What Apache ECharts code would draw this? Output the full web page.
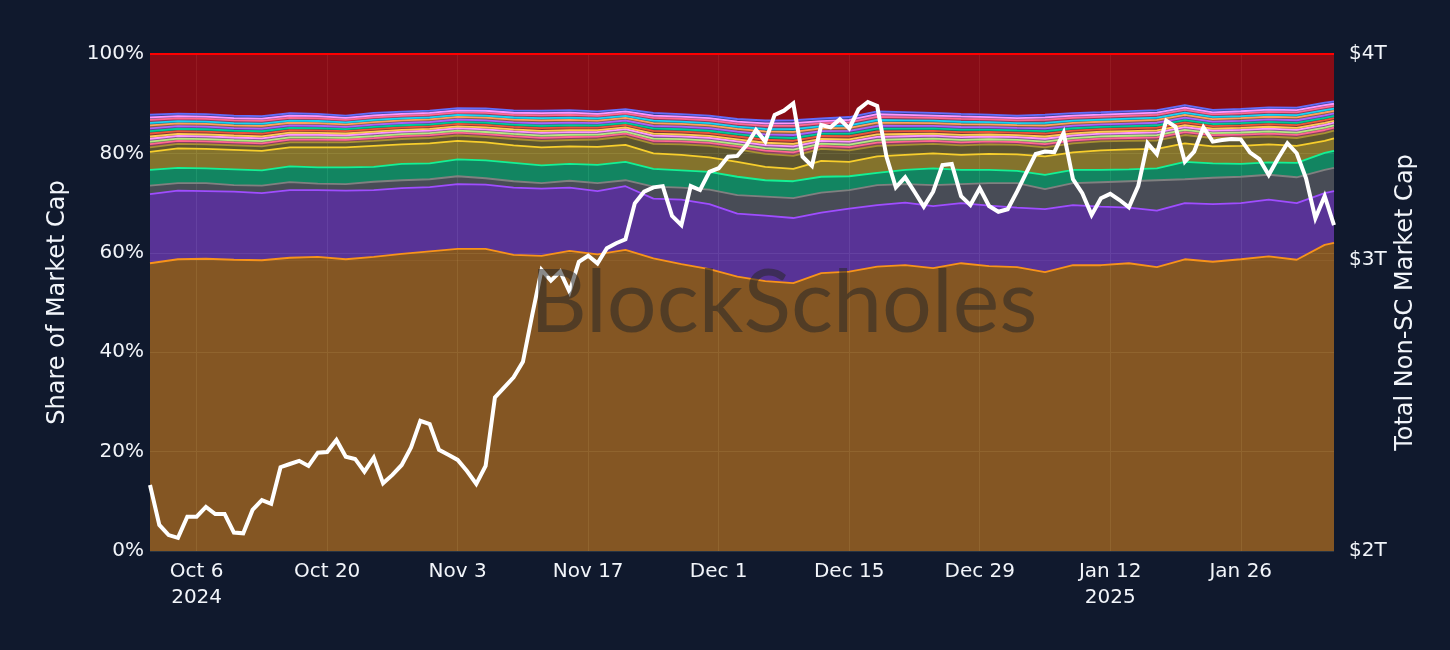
<!DOCTYPE html>
<html>
<head>
<meta charset="utf-8">
<script src="https://cdn.jsdelivr.net/npm/echarts@6/dist/echarts.min.js"></script>
<style>
html,body{margin:0;padding:0;background:#10192d;}
#chart{width:1450px;height:650px;}
</style>
</head>
<body>
<div id="chart"></div>
<script>
// ---------------- DATA ----------------
// Dates of the share series (every 3 days + last day)
const shareDates = ['2024-10-01','2024-10-04','2024-10-07','2024-10-10','2024-10-13','2024-10-16','2024-10-19','2024-10-22','2024-10-25','2024-10-28','2024-10-31',
  '2024-11-03','2024-11-06','2024-11-09','2024-11-12','2024-11-15','2024-11-18','2024-11-21','2024-11-24','2024-11-27','2024-11-30',
  '2024-12-03','2024-12-06','2024-12-09','2024-12-12','2024-12-15','2024-12-18','2024-12-21','2024-12-24','2024-12-27','2024-12-30',
  '2025-01-02','2025-01-05','2025-01-08','2025-01-11','2025-01-14','2025-01-17','2025-01-20','2025-01-23','2025-01-26','2025-01-29',
  '2025-02-01','2025-02-04','2025-02-05'];

// Shares of market cap (%)
const btcShare  = [57.9,58.7,58.8,58.6,58.5,59.0,59.2,58.7,59.2,59.8,60.3,60.8,60.8,59.6,59.4,60.4,59.7,60.6,58.9,57.7,56.7,55.2,54.3,53.9,55.9,56.2,57.2,57.5,56.9,57.9,57.3,57.1,56.1,57.5,57.5,57.9,57.1,58.7,58.2,58.7,59.3,58.6,61.6,62.0];
const ethShare  = [13.9,13.8,13.6,13.7,13.5,13.6,13.4,13.8,13.4,13.2,12.9,13.0,12.9,13.5,13.5,12.7,12.7,12.8,12.0,13.0,13.1,12.7,13.2,13.1,12.2,12.7,12.4,12.6,12.5,12.1,12.2,12.0,12.7,12.1,11.8,11.2,11.4,11.3,11.6,11.3,11.4,11.4,10.4,10.4];
const xrpShare  = [1.7,1.5,1.6,1.3,1.5,1.6,1.3,1.3,1.7,1.6,1.6,1.6,1.3,1.3,1.1,1.4,1.6,1.2,2.4,2.4,2.9,3.7,3.8,4.0,4.0,3.7,4.0,3.7,4.2,3.8,4.5,4.9,4.0,4.4,4.9,5.3,6.1,4.8,5.3,5.3,5.0,5.2,4.7,4.7];
const solShare  = [3.2,3.1,3.0,3.2,3.1,3.2,3.3,3.4,3.0,3.3,3.2,3.4,3.6,3.7,3.6,3.4,3.7,3.7,3.6,3.5,3.6,3.7,3.3,3.4,3.2,2.8,2.5,2.9,3.4,2.9,2.7,2.5,2.9,2.7,2.5,2.4,2.4,3.5,2.9,2.6,2.5,2.9,3.4,3.4];
const bnbShare  = [3.6,3.9,3.9,3.9,3.9,3.8,4.0,4.0,4.2,3.9,4.0,3.7,3.6,3.5,3.6,3.5,3.6,3.4,3.1,3.1,2.9,3.0,2.7,2.5,3.2,2.9,3.3,3.0,3.0,3.0,3.2,3.3,3.7,3.5,3.9,4.0,3.9,3.7,3.4,3.6,3.6,3.4,2.4,2.5];
const dogeShare = [0.9,0.9,0.9,0.9,0.9,1.0,1.0,1.0,1.0,1.1,1.1,1.1,1.1,1.3,1.3,1.3,1.5,1.7,1.9,2.1,2.3,2.5,2.6,2.6,2.4,2.3,2.1,2.0,1.9,1.9,1.9,1.9,1.8,1.8,1.8,1.7,1.7,1.7,1.7,1.7,1.6,1.6,1.6,1.6];
const adaShare  = [0.65,0.61,0.61,0.60,0.61,0.59,0.58,0.55,0.57,0.56,0.56,0.56,0.58,0.58,0.61,0.60,0.57,0.56,0.62,0.61,0.61,0.61,0.66,0.70,0.61,0.66,0.68,0.65,0.62,0.63,0.60,0.59,0.65,0.61,0.59,0.60,0.61,0.60,0.57,0.58,0.59,0.61,0.61,0.59];
const trxShare  = [0.50,0.46,0.46,0.45,0.46,0.44,0.43,0.40,0.42,0.41,0.41,0.41,0.43,0.43,0.46,0.45,0.42,0.41,0.47,0.46,0.46,0.46,0.51,0.55,0.46,0.51,0.53,0.50,0.47,0.48,0.45,0.44,0.50,0.46,0.44,0.45,0.46,0.45,0.42,0.43,0.44,0.46,0.46,0.44];
const avaxShare = [0.60,0.56,0.56,0.55,0.56,0.54,0.53,0.50,0.52,0.51,0.51,0.51,0.53,0.53,0.56,0.55,0.52,0.51,0.57,0.56,0.56,0.56,0.61,0.65,0.56,0.61,0.63,0.60,0.57,0.58,0.55,0.54,0.60,0.56,0.54,0.55,0.56,0.55,0.52,0.53,0.54,0.56,0.56,0.54];
const shibShare = [0.45,0.41,0.41,0.40,0.41,0.39,0.38,0.35,0.37,0.36,0.36,0.36,0.38,0.38,0.41,0.40,0.37,0.36,0.42,0.41,0.41,0.41,0.46,0.50,0.41,0.46,0.48,0.45,0.42,0.43,0.40,0.39,0.45,0.41,0.39,0.40,0.41,0.40,0.37,0.38,0.39,0.41,0.41,0.39];
const tonShare  = [0.60,0.56,0.56,0.55,0.56,0.54,0.53,0.50,0.52,0.51,0.51,0.51,0.53,0.53,0.56,0.55,0.52,0.51,0.57,0.56,0.56,0.56,0.61,0.65,0.56,0.61,0.63,0.60,0.57,0.58,0.55,0.54,0.60,0.56,0.54,0.55,0.56,0.55,0.52,0.53,0.54,0.56,0.56,0.54];
const linkShare = [0.50,0.46,0.46,0.45,0.46,0.44,0.43,0.40,0.42,0.41,0.41,0.41,0.43,0.43,0.46,0.45,0.42,0.41,0.47,0.46,0.46,0.46,0.51,0.55,0.46,0.51,0.53,0.50,0.47,0.48,0.45,0.44,0.50,0.46,0.44,0.45,0.46,0.45,0.42,0.43,0.44,0.46,0.46,0.44];
const dotShare  = [0.55,0.51,0.51,0.50,0.51,0.49,0.48,0.45,0.47,0.46,0.46,0.46,0.48,0.48,0.51,0.50,0.47,0.46,0.52,0.51,0.51,0.51,0.56,0.60,0.51,0.56,0.58,0.55,0.52,0.53,0.50,0.49,0.55,0.51,0.49,0.50,0.51,0.50,0.47,0.48,0.49,0.51,0.51,0.49];
const suiShare  = [0.60,0.56,0.56,0.55,0.56,0.54,0.53,0.50,0.52,0.51,0.51,0.51,0.53,0.53,0.56,0.55,0.52,0.51,0.57,0.56,0.56,0.56,0.61,0.65,0.56,0.61,0.63,0.60,0.57,0.58,0.55,0.54,0.60,0.56,0.54,0.55,0.56,0.55,0.52,0.53,0.54,0.56,0.56,0.54];
const xlmShare  = [0.50,0.46,0.46,0.45,0.46,0.44,0.43,0.40,0.42,0.41,0.41,0.41,0.43,0.43,0.46,0.45,0.42,0.41,0.47,0.46,0.46,0.46,0.51,0.55,0.46,0.51,0.53,0.50,0.47,0.48,0.45,0.44,0.50,0.46,0.44,0.45,0.46,0.45,0.42,0.43,0.44,0.46,0.46,0.44];
const bchShare  = [0.60,0.56,0.56,0.55,0.56,0.54,0.53,0.50,0.52,0.51,0.51,0.51,0.53,0.53,0.56,0.55,0.52,0.51,0.57,0.56,0.56,0.56,0.61,0.65,0.56,0.61,0.63,0.60,0.57,0.58,0.55,0.54,0.60,0.56,0.54,0.55,0.56,0.55,0.52,0.53,0.54,0.56,0.56,0.54];
const hbarShare = [0.50,0.46,0.46,0.45,0.46,0.44,0.43,0.40,0.42,0.41,0.41,0.41,0.43,0.43,0.46,0.45,0.42,0.41,0.47,0.46,0.46,0.46,0.51,0.55,0.46,0.51,0.53,0.50,0.47,0.48,0.45,0.44,0.50,0.46,0.44,0.45,0.46,0.45,0.42,0.43,0.44,0.46,0.46,0.44];
const ltcShare  = [0.55,0.51,0.51,0.50,0.51,0.49,0.48,0.45,0.47,0.46,0.46,0.46,0.48,0.48,0.51,0.50,0.47,0.46,0.52,0.51,0.51,0.51,0.56,0.60,0.51,0.56,0.58,0.55,0.52,0.53,0.50,0.49,0.55,0.51,0.49,0.50,0.51,0.50,0.47,0.48,0.49,0.51,0.51,0.49];
const otherShare = [12.3,12.0,12.2,12.5,12.5,12.0,12.1,12.5,11.9,11.6,11.4,11.0,11.0,11.4,11.4,11.4,11.6,11.2,11.9,12.1,12.5,13.1,13.5,13.4,13.1,12.8,11.6,11.8,11.9,12.1,12.3,12.5,12.3,11.9,11.8,11.6,11.4,10.4,11.3,11.1,10.8,10.8,9.9,9.6];

// Total non-stablecoin market cap, $ trillions, daily from 2024-10-01
const capStartDate = '2024-10-01';
const marketCapT = [2.193,2.074,2.045,2.037,2.098,2.098,2.127,2.106,2.106,2.052,2.050,2.118,2.147,2.136,2.248,2.258,2.268,2.252,2.294,2.296,
  2.335,2.281,2.274,2.234,2.278,2.198,2.224,2.255,2.311,2.398,2.387,2.303,2.287,2.271,2.236,2.196,2.252,2.478,2.513,2.548,
  2.604,2.780,2.960,2.916,2.953,2.871,2.994,3.019,2.987,3.051,3.072,3.089,3.248,3.301,3.321,3.327,3.191,3.151,3.327,3.309,
  3.394,3.411,3.466,3.470,3.523,3.598,3.540,3.674,3.696,3.734,3.466,3.422,3.623,3.611,3.652,3.606,3.703,3.741,3.720,3.466,
  3.321,3.368,3.301,3.233,3.301,3.426,3.431,3.281,3.240,3.317,3.236,3.210,3.221,3.301,3.390,3.479,3.491,3.488,3.584,3.359,
  3.294,3.196,3.271,3.291,3.263,3.230,3.327,3.532,3.479,3.645,3.614,3.442,3.491,3.611,3.540,3.548,3.553,3.551,3.486,3.454,
  3.379,3.459,3.532,3.483,3.363,3.181,3.281,3.151];

// Axis ticks
const xTickDates  = ['2024-10-06','2024-10-20','2024-11-03','2024-11-17','2024-12-01','2024-12-15','2024-12-29','2025-01-12','2025-01-26'];
const xTickLabels = ['Oct 6\n2024','Oct 20','Nov 3','Nov 17','Dec 1','Dec 15','Dec 29','Jan 12\n2025','Jan 26'];
const capTickValues = [2e12, 3e12, 4e12];
const capTickLabels = ['$2T', '$3T', '$4T'];

// ---------------- HELPERS ----------------
function pad(n) { return (n < 10 ? '0' : '') + n; }
function dayString(start, n) {
  const p = start.split('-');
  const d = new Date(Date.UTC(+p[0], +p[1] - 1, +p[2] + n));
  return d.getUTCFullYear() + '-' + pad(d.getUTCMonth() + 1) + '-' + pad(d.getUTCDate());
}
// category axis: one category per day of the market-cap series
const dayCategories = marketCapT.map((v, i) => dayString(capStartDate, i));

const stackDefs = [
  {name:'BTC',  color:'#f7931a', values: btcShare},
  {name:'ETH',  color:'#9f4dff', values: ethShare},
  {name:'XRP',  color:'#808080', values: xrpShare},
  {name:'SOL',  color:'#14f195', values: solShare},
  {name:'BNB',  color:'#f7ce2c', values: bnbShare},
  {name:'DOGE', color:'#a89232', values: dogeShare},
  {name:'ADA',  color:'#FF6692', values: adaShare},
  {name:'TRX',  color:'#B6E880', values: trxShare},
  {name:'AVAX', color:'#FF97FF', values: avaxShare},
  {name:'SHIB', color:'#FECB52', values: shibShare},
  {name:'TON',  color:'#EF553B', values: tonShare},
  {name:'LINK', color:'#00CC96', values: linkShare},
  {name:'DOT',  color:'#AB63FA', values: dotShare},
  {name:'SUI',  color:'#FFA15A', values: suiShare},
  {name:'XLM',  color:'#19D3F3', values: xlmShare},
  {name:'BCH',  color:'#FF6692', values: bchShare},
  {name:'HBAR', color:'#FF97FF', values: hbarShare},
  {name:'LTC',  color:'#636EFA', values: ltcShare},
];

const fontFam = '"DejaVu Sans", Verdana, sans-serif';
const txtColor = '#f2f5fa';
const gridColor = '#283442';

const series = stackDefs.map(s => ({
  type: 'line', name: s.name, stack: 'share', yAxisIndex: 0,
  symbol: 'none', showSymbol: false, animation: false, z: 2,
  data: shareDates.map((d, i) => [d, s.values[i]]),
  lineStyle: {color: s.color, width: 1.8},
  itemStyle: {color: s.color},
  areaStyle: {color: s.color, opacity: 0.5}
}));

series.push({
  type: 'line', name: 'Other', stack: 'share', yAxisIndex: 0,
  symbol: 'none', showSymbol: false, animation: false, z: 2,
  data: shareDates.map((d, i) => [d, otherShare[i]]),
  lineStyle: {width: 0},
  itemStyle: {color: '#ff0000'},
  areaStyle: {color: '#ff0000', opacity: 0.5},
  markLine: {
    silent: true, symbol: 'none', animation: false,
    label: {show: false},
    lineStyle: {color: '#ff0000', width: 2, type: 'solid'},
    data: [{yAxis: 100}]
  }
});

series.push({
  type: 'line', name: 'Total Non-SC Market Cap', yAxisIndex: 1,
  symbol: 'none', showSymbol: false, animation: false, z: 5,
  data: marketCapT.map((v, i) => [dayCategories[i], v * 1e12]),
  lineStyle: {color: '#ffffff', width: 4, join: 'miter'},
  itemStyle: {color: '#ffffff'},
  markLine: {
    silent: true, symbol: 'none', animation: false, z: 1,
    data: capTickValues.map((v, i) => ({
      yAxis: v,
      lineStyle: {color: i === 1 ? 'rgba(255,255,255,0.07)' : 'rgba(0,0,0,0)', width: 1, type: 'solid'},
      label: {show: true, position: 'end', distance: 15, formatter: capTickLabels[i],
              color: txtColor, fontSize: 20, fontFamily: fontFam}
    }))
  }
});

function isTickDay(index, value) { return xTickDates.indexOf(value) >= 0; }

const chart = echarts.init(document.getElementById('chart'), null, {renderer: 'canvas'});
chart.setOption({
  backgroundColor: '#10192d',
  animation: false,
  grid: {left: 150, right: 116, top: 54, bottom: 99, containLabel: false},
  xAxis: {
    type: 'category', data: dayCategories, boundaryGap: false,
    axisLine: {show: false}, axisTick: {show: false, interval: isTickDay},
    splitLine: {show: true, interval: isTickDay, lineStyle: {color: gridColor, width: 1}},
    axisLabel: {
      interval: isTickDay,
      formatter: function (value) { const k = xTickDates.indexOf(value); return k >= 0 ? xTickLabels[k] : ''; },
      color: txtColor, fontSize: 20, fontFamily: fontFam, lineHeight: 26, margin: 8
    }
  },
  yAxis: [
    {
      type: 'value', min: 0, max: 100, interval: 20, position: 'left',
      name: 'Share of Market Cap', nameLocation: 'middle', nameRotate: 90, nameGap: 80,
      nameTextStyle: {color: txtColor, fontSize: 24, fontFamily: fontFam},
      axisLine: {show: false}, axisTick: {show: false},
      axisLabel: {formatter: '{value}%', color: txtColor, fontSize: 20, fontFamily: fontFam, margin: 6},
      splitLine: {show: true, lineStyle: {color: gridColor, width: 1}}
    },
    {
      type: 'log', logBase: 10, min: 2e12, max: 4e12, position: 'right',
      name: 'Total Non-SC Market Cap', nameLocation: 'middle', nameRotate: 90, nameGap: 60,
      nameTextStyle: {color: txtColor, fontSize: 24, fontFamily: fontFam},
      axisLine: {show: false}, axisTick: {show: false},
      axisLabel: {show: false}, splitLine: {show: false}
    }
  ],
  graphic: [{
    type: 'text', left: 530, top: 260, z: 100, silent: true,
    style: {text: 'BlockScholes', fill: 'rgba(40,40,40,0.55)', font: '88px Lato, "Noto Sans", sans-serif'}
  }],
  series: series
});
</script>
</body>
</html>
